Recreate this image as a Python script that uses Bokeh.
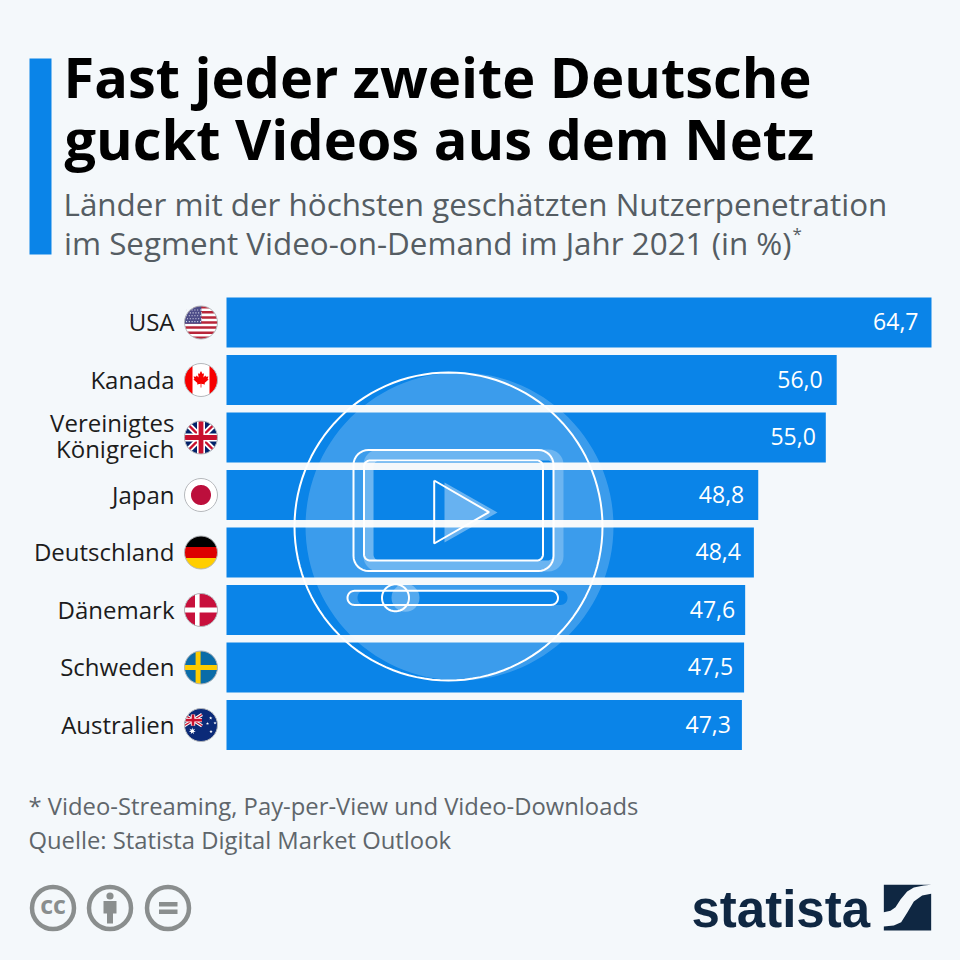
import math
import numpy as np
from bokeh.plotting import figure, ColumnDataSource
from bokeh.models import Range1d
from bokeh.embed import file_html
from bokeh.resources import INLINE
from bokeh.core.properties import value

countries = ["USA", "Kanada", "Vereinigtes\nKönigreich", "Japan", "Deutschland", "Dänemark", "Schweden", "Australien"]
penetration = [64.7, 56.0, 55.0, 48.8, 48.4, 47.6, 47.5, 47.3]
value_labels = ["64,7", "56,0", "55,0", "48,8", "48,4", "47,6", "47,5", "47,3"]
title_lines = ["Fast jeder zweite Deutsche", "guckt Videos aus dem Netz"]
subtitle_lines = ["Länder mit der höchsten geschätzten Nutzerpenetration", "im Segment Video-on-Demand im Jahr 2021 (in %)"]
footer_lines = ["* Video-Streaming, Pay-per-View und Video-Downloads", "Quelle: Statista Digital Market Outlook"]

BG = "#f4f8fb"; BLUE = "#0a84e8"; NAVY = "#0f2742"; GREY = "#8a8e8e"
FONT = value("Open Sans")
W = 960
K = 705 / 64.7
STEP = 57.5
BL = 0.43  # baseline correction, in em

p = figure(width=W, height=W, output_backend="svg", toolbar_location=None,
           x_range=Range1d((0 - 226) / K, (960 - 226) / K),
           y_range=Range1d((960 - 322) / STEP, (0 - 322) / STEP),
           min_border=0, outline_line_color=None, background_fill_color=BG, border_fill_color=BG)
p.axis.visible = False
p.grid.visible = False
p.xaxis.visible = False
p.yaxis.visible = False
p.extra_x_ranges["px"] = Range1d(0, 960)
p.extra_y_ranges["px"] = Range1d(960, 0)
PX = dict(x_range_name="px", y_range_name="px")

idx = list(range(len(countries)))
p.hbar(y=idx, left=0, right=penetration, height=50 / STEP, color=BLUE, line_color=None)

# ---------- helpers for decoration shapes ----------
def circle_poly(cx, cy, r, n=72):
    return [(cx + r * math.cos(2 * math.pi * i / n), cy + r * math.sin(2 * math.pi * i / n)) for i in range(n)]

def rrect(x0, y0, x1, y1, r, n=8):
    pts = []
    for cx, cy, a in [(x1 - r, y0 + r, -90), (x1 - r, y1 - r, 0), (x0 + r, y1 - r, 90), (x0 + r, y0 + r, 180)]:
        for i in range(n + 1):
            t = math.radians(a + 90 * i / n)
            pts.append((cx + r * math.cos(t), cy + r * math.sin(t)))
    return pts

def clip(subject, clipper):
    out = subject
    m = len(clipper)
    area = sum(clipper[i][0] * clipper[(i + 1) % m][1] - clipper[(i + 1) % m][0] * clipper[i][1] for i in range(m))
    sgn = 1 if area > 0 else -1
    for i in range(m):
        ax, ay = clipper[i]; bx, by = clipper[(i + 1) % m]
        inp = out; out = []
        if not inp:
            break
        def side(q):
            return sgn * ((bx - ax) * (q[1] - ay) - (by - ay) * (q[0] - ax))
        for j in range(len(inp)):
            c = inp[j]; d = inp[(j + 1) % len(inp)]
            sc, sd = side(c), side(d)
            if sc >= 0:
                out.append(c)
            if sc * sd < 0:
                t = sc / (sc - sd)
                out.append((c[0] + t * (d[0] - c[0]), c[1] + t * (d[1] - c[1])))
    return out

def star(cx, cy, R, pts=5, inner=0.42):
    o = []
    for i in range(pts * 2):
        r = R if i % 2 == 0 else R * inner
        t = -math.pi / 2 + math.pi * i / pts
        o.append((cx + r * math.cos(t), cy + r * math.sin(t)))
    return o

R = 16.5
CIRC = circle_poly(0, 0, R, 72)
def rect(x0, y0, x1, y1):
    return [(x0, y0), (x1, y0), (x1, y1), (x0, y1)]

def diag_band(x0, y0, x1, y1, w):
    dx, dy = x1 - x0, y1 - y0
    L = math.hypot(dx, dy)
    nx, ny = -dy / L * w / 2, dx / L * w / 2
    return [(x0 + nx, y0 + ny), (x1 + nx, y1 + ny), (x1 - nx, y1 - ny), (x0 - nx, y0 - ny)]

def jack(x0, y0, x1, y1, s):
    cx, cy = (x0 + x1) / 2, (y0 + y1) / 2
    shapes = [(rect(x0, y0, x1, y1), "#012169")]
    for a, b, c, d in [(x0, y0, x1, y1), (x0, y1, x1, y0)]:
        shapes.append((diag_band(a, b, c, d, 6 * s), "#ffffff"))
    for a, b, c, d in [(x0, y0, x1, y1), (x0, y1, x1, y0)]:
        shapes.append((diag_band(a, b, c, d, 2.2 * s), "#c8102e"))
    shapes.append((rect(cx - 4 * s, y0, cx + 4 * s, y1), "#ffffff"))
    shapes.append((rect(x0, cy - 4 * s, x1, cy + 4 * s), "#ffffff"))
    shapes.append((rect(cx - 2.4 * s, y0, cx + 2.4 * s, y1), "#c8102e"))
    shapes.append((rect(x0, cy - 2.4 * s, x1, cy + 2.4 * s), "#c8102e"))
    return shapes

MAPLE = [(0, -9), (1.6, -6), (3, -6.8), (2.4, -2.6), (4.4, -4.4), (5, -3.2), (7.4, -3.6), (6.6, -1), (7.6, -0.4),
         (3.6, 3), (4, 4.4), (0.4, 3.8), (0.4, 7.4), (-0.4, 7.4), (-0.4, 3.8), (-4, 4.4), (-3.6, 3), (-7.6, -0.4),
         (-6.6, -1), (-7.4, -3.6), (-5, -3.2), (-4.4, -4.4), (-2.4, -2.6), (-3, -6.8), (-1.6, -6)]

def flag_usa():
    s = [(rect(-18, -18, 18, 18), "#ffffff")]
    sh = 33.0 / 13
    for i in range(0, 13, 2):
        y = -16.5 + i * sh
        s.append((rect(-18, y, 18, y + sh), "#b8263a"))
    s.append((rect(-18, -18, 0.3, 1.2), "#4d4c88"))
    extra = []
    for row in range(5):
        for col in range(6):
            extra.append((circle_poly(-14.5 + col * 2.8 + (row % 2) * 1.0, -12.5 + row * 2.9, 0.65, 6), "#dfe0ee"))
    return s, extra

def flag_can():
    return [(rect(-18, -18, 18, 18), "#ffffff"), (rect(-18, -18, -8.5, 18), "#f70000"), (rect(8.5, -18, 18, 18), "#f70000")], [(MAPLE, "#f70000")]

def flag_uk():
    return jack(-17.5, -17.5, 17.5, 17.5, 1), []

def flag_jp():
    return [(rect(-18, -18, 18, 18), "#ffffff")], [(circle_poly(0, 0, 10), "#bc0f3c")]

def flag_de():
    return [(rect(-18, -18, 18, -5.5), "#000000"), (rect(-18, -5.5, 18, 5.5), "#dd0000"), (rect(-18, 5.5, 18, 18), "#ffce00")], []

def flag_dk():
    return [(rect(-18, -18, 18, 18), "#c8103c"), (rect(-6, -18, -1.4, 18), "#ffffff"), (rect(-18, -2.4, 18, 2.4), "#ffffff")], []

def flag_se():
    return [(rect(-18, -18, 18, 18), "#0a6ca8"), (rect(-5.4, -18, -0.4, 18), "#fecc00"), (rect(-18, -2.5, 18, 2.5), "#fecc00")], []

def flag_au():
    base = [(rect(-18, -18, 18, 18), "#0b2a78")] + jack(-17, -10.5, 1, 0.8, 0.55)
    stars = [(star(-8.7, 6, 3.6, 7), "#ffffff"), (star(9.7, -7, 1.8), "#ffffff"), (star(14, -2, 1.6), "#ffffff"),
             (star(6.5, -1.5, 1.6), "#ffffff"), (star(10, 6.5, 1.8), "#ffffff")]
    return base, stars

flags = [flag_usa, flag_can, flag_uk, flag_jp, flag_de, flag_dk, flag_se, flag_au]
fx, fy, fc = [], [], []
FLAG_X = 200.5
for i, fn in enumerate(flags):
    cy = 322 + i * STEP
    clipped, free = fn()
    for poly, col in clipped:
        q = clip(poly, CIRC)
        if q:
            fx.append([a + FLAG_X for a, _ in q]); fy.append([b + cy for _, b in q]); fc.append(col)
    for poly, col in free:
        fx.append([a + FLAG_X for a, _ in poly]); fy.append([b + cy for _, b in poly]); fc.append(col)
p.patches(xs=fx, ys=fy, fill_color=fc, line_color=None, **PX)
p.circle(x=[FLAG_X] * 8, y=[322 + i * STEP for i in idx], radius=16.5, fill_color=None,
         line_color="#b5b8bc", line_width=1, **PX)

# ---------- video icon overlay ----------
def xs_ys(poly):
    return [a for a, _ in poly], [b for _, b in poly]

disc = xs_ys(circle_poly(459, 526, 154, 120))
scr_hole = xs_ys(rrect(373, 460, 553, 560, 6))
sld_hole = xs_ys(rrect(357, 590, 567, 604.5, 7))
p.multi_polygons(xs=[[[disc[0], scr_hole[0], sld_hole[0]]]], ys=[[[disc[1], scr_hole[1], sld_hole[1]]]],
                 fill_color="#ffffff", fill_alpha=0.2, line_color=None, **PX)
frame = xs_ys(rrect(363, 449, 563, 571, 15))
p.multi_polygons(xs=[[[frame[0], scr_hole[0]]]], ys=[[[frame[1], scr_hole[1]]]],
                 fill_color="#ffffff", fill_alpha=0.25, line_color=None, **PX)
tri_fill = [(444, 482), (497, 512), (444, 542)]
p.patch(*xs_ys(tri_fill), fill_color="#ffffff", fill_alpha=0.38, line_color=None, **PX)
p.circle(x=[405], y=[597.3], radius=14, fill_color="#ffffff", fill_alpha=0.3, line_color=None, **PX)

def outline(poly, w=2.0):
    xs, ys = xs_ys(poly + poly[:1])
    p.line(xs, ys, line_color="#ffffff", line_width=w, **PX)

outline(circle_poly(448, 526, 154, 120))
outline(rrect(353, 449.5, 553, 570.5, 15))
outline(rrect(363.5, 460, 542.5, 560, 6))
outline([(433.7, 480), (488.5, 511.7), (433.7, 543)])
outline(rrect(347, 590.3, 557.5, 604.5, 7))
outline(circle_poly(395, 597.3, 13.5))

# ---------- labels ----------
lx, ly, lt = [], [], []
for i, name in enumerate(countries):
    parts = name.split("\n")
    if len(parts) == 1:
        lx.append(174); ly.append(i - 1 / STEP); lt.append(name)
    else:
        lx += [174, 174]; ly += [i - 15 / STEP, i + 11 / STEP]; lt += parts
p.text(x=lx, y=ly, text=lt, x_range_name="px", text_font=FONT, text_font_size="24px", text_color="#1c1c1c",
       text_align="right", text_baseline="middle")
label_shift = [-13, -14, -10, -14, -13, -10, -11, -11]
p.text(x=penetration, y=[i - 1 / STEP for i in idx], text=value_labels, x_offset=label_shift, text_font=FONT,
       text_font_size="23px", text_color="#ffffff", text_align="right", text_baseline="middle")

# ---------- title block ----------
def base_text(xs, ys, texts, size, **kw):
    kw.setdefault("text_font", FONT)
    p.text(x=xs, y=[y - BL * size for y in ys], text=texts, text_font_size=f"{size}px",
           text_baseline="alphabetic", **kw, **PX)

p.quad(left=[29], right=[51], top=[58], bottom=[254], color=BLUE, line_color=None, **PX)
base_text([63, 64], [100, 162], title_lines, 55.9, text_font_style="bold", text_color="#000000")
base_text([63, 63.5], [217, 255.5], subtitle_lines, 31.4, text_color="#555d63")
base_text([792], [240], ["*"], 17, text_color="#555d63")
base_text([28, 28], [816, 850], footer_lines, 23.8, text_color="#5f666b")

# ---------- licence icons ----------
p.circle(x=[52.5, 109.5, 167.5], y=[907.5] * 3, radius=21, fill_color=BG, line_color=GREY, line_width=4.5, **PX)
base_text([52.5], [914.5], ["cc"], 25, text_font_style="bold", text_color=GREY, text_align="center")
p.circle(x=[109.5], y=[895.5], radius=3.6, fill_color=GREY, line_color=None, **PX)
p.quad(left=[103, 106.5], right=[116, 112.5], top=[900.5, 900.5], bottom=[913, 923], color=GREY, line_color=None, **PX)
p.quad(left=[158.5, 158.5], right=[177, 177], top=[901.5, 909], bottom=[906, 913.5], color=GREY, line_color=None, **PX)

# ---------- logo ----------
base_text([691], [931], ["statista"], 51, text_font=value("Liberation Sans"), text_font_style="bold", text_color=NAVY)
z = lambda pts: ([680 + a / 3 for a, _ in pts], [875 + b / 3 for _, b in pts])
logo_a = [(610, 28), (752, 28), (730, 30), (700, 36), (680, 48), (660, 72), (645, 95), (630, 106), (610, 110)]
logo_b = [(752, 55), (725, 60), (700, 78), (680, 112), (662, 140), (640, 150), (610, 153), (610, 165), (752, 165)]
p.patches(xs=[z(logo_a)[0], z(logo_b)[0]], ys=[z(logo_a)[1], z(logo_b)[1]], fill_color=NAVY, line_color=None, **PX)

html = file_html(p, INLINE)
html = html.replace("<head>", "<head><style>html,body{margin:0;background:%s;}</style>" % BG, 1)
open("out.html", "w").write(html)
